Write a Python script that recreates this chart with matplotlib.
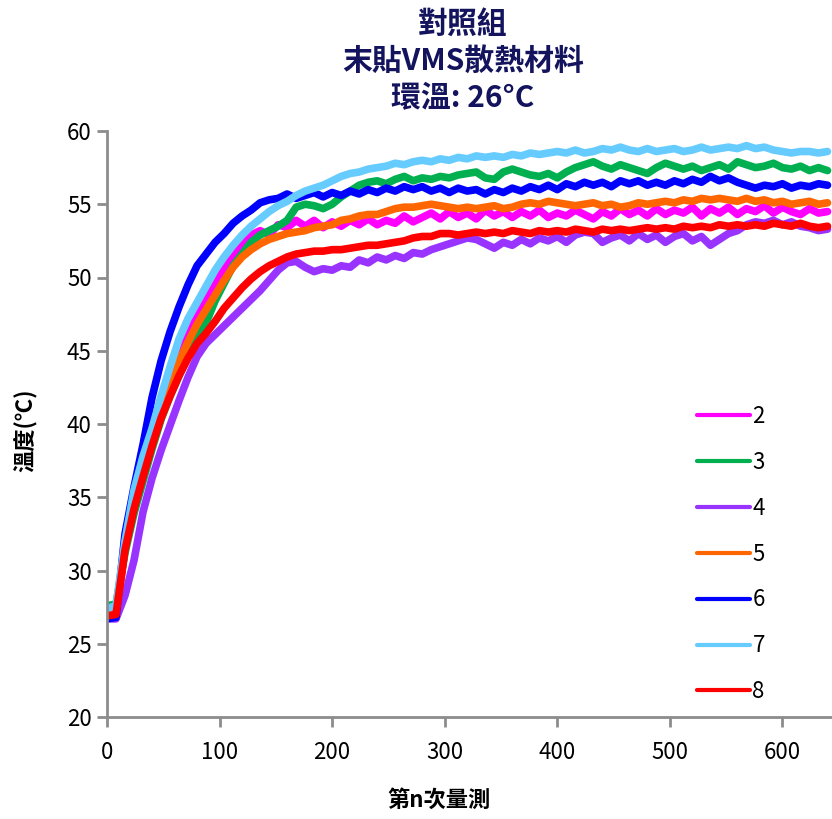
import matplotlib.pyplot as plt
import numpy as np

plt.rcParams['font.family'] = ['Noto Sans CJK TC', 'DejaVu Sans']

TITLE = '對照組\n末貼VMS散熱材料\n環溫: 26°C'
X_LABEL = '第n次量測'
Y_LABEL = '溫度(℃)'

# measurement index (read every 8th reading off the chart)
n = np.arange(0, 641, 8)

labels = ['2', '3', '4', '5', '6', '7', '8']
colors = ['#FF00FF', '#00B050', '#9933FF', '#FF6600', '#0000FF', '#66CCFF', '#FF0000']

t2 = [26.9, 27.0, 31.5, 34.4, 37.0, 39.2, 41.2, 43.0, 44.8, 46.4,
      47.6, 48.5, 49.5, 50.6, 51.6, 52.2, 52.9, 53.2, 52.9, 53.6,
      53.4, 53.9, 53.5, 53.9, 53.4, 53.8, 53.5, 53.9, 53.6, 54.0,
      53.6, 53.9, 53.7, 54.2, 53.8, 54.1, 54.4, 54.0, 54.5, 54.1,
      54.4, 54.0, 54.6, 54.2, 54.5, 54.1, 54.5, 54.2, 54.6, 54.1,
      54.4, 54.2, 54.6, 54.3, 54.0, 54.5, 54.2, 54.7, 54.3, 54.6,
      54.2, 54.7, 54.3, 54.6, 54.4, 54.8, 54.2, 54.7, 54.4, 54.8,
      54.3, 54.7, 54.5, 54.9, 54.4, 54.8, 54.5, 54.3, 54.7, 54.4,
      54.5]
t3 = [27.6, 27.7, 31.2, 33.9, 36.1, 38.3, 40.3, 41.9, 43.3, 44.6,
      45.8, 46.9, 48.4, 49.6, 50.8, 51.6, 52.4, 52.9, 53.2, 53.5,
      53.9, 54.8, 55.0, 54.9, 54.7, 55.0, 55.5, 55.9, 56.3, 56.5,
      56.6, 56.4, 56.7, 56.9, 56.6, 56.8, 56.7, 56.9, 56.8, 57.0,
      57.1, 57.2, 56.8, 56.7, 57.2, 57.4, 57.2, 57.0, 56.9, 57.1,
      56.8, 57.2, 57.5, 57.7, 57.9, 57.6, 57.4, 57.7, 57.5, 57.3,
      57.1, 57.5, 57.8, 57.6, 57.4, 57.6, 57.3, 57.5, 57.7, 57.4,
      57.9, 57.7, 57.5, 57.6, 57.8, 57.5, 57.4, 57.6, 57.3, 57.5,
      57.3]
t4 = [26.7, 26.7, 28.3, 30.7, 34.0, 36.3, 38.2, 39.9, 41.6, 43.2,
      44.6, 45.5, 46.1, 46.7, 47.3, 47.9, 48.5, 49.1, 49.8, 50.5,
      51.0, 51.1, 50.7, 50.4, 50.6, 50.5, 50.8, 50.7, 51.2, 51.0,
      51.4, 51.2, 51.5, 51.3, 51.7, 51.6, 51.9, 52.1, 52.3, 52.5,
      52.7, 52.6, 52.3, 52.0, 52.4, 52.2, 52.6, 52.3, 52.7, 52.5,
      52.8, 52.4, 52.9, 53.1, 53.0, 52.4, 52.7, 52.9, 52.5, 53.0,
      52.6, 52.9, 52.4, 52.8, 53.0, 52.5, 52.8, 52.2, 52.6, 53.0,
      53.2, 53.6, 53.8, 53.7, 53.9, 53.6, 53.8, 53.5, 53.4, 53.2,
      53.3]
t5 = [27.0, 27.1, 31.6, 34.4, 36.9, 39.3, 41.3, 42.9, 44.3, 45.6,
      46.8, 47.8, 48.8, 49.8, 50.7, 51.4, 51.9, 52.3, 52.6, 52.8,
      53.0, 53.1, 53.2, 53.4, 53.5, 53.6, 53.9, 54.0, 54.2, 54.3,
      54.3, 54.5, 54.7, 54.8, 54.8, 54.9, 55.0, 54.9, 54.8, 54.7,
      54.8, 54.7, 54.8, 54.9, 54.7, 54.8, 55.0, 55.1, 55.0, 55.2,
      55.1, 55.0, 54.9, 55.0, 55.1, 54.9, 55.0, 54.8, 54.9, 55.1,
      55.0, 55.1, 55.2, 55.1, 55.3, 55.2, 55.4, 55.3, 55.4, 55.3,
      55.2, 55.4, 55.2, 55.3, 55.1, 55.2, 55.0, 55.1, 55.2, 55.0,
      55.1]
t6 = [26.7, 26.8, 32.5, 35.7, 38.6, 41.8, 44.3, 46.3, 48.0, 49.5,
      50.8, 51.6, 52.4, 53.0, 53.7, 54.2, 54.6, 55.1, 55.3, 55.4,
      55.7, 55.4, 55.6, 55.8, 55.5, 55.8, 55.6, 55.9, 55.7, 56.0,
      55.8, 56.1, 55.9, 56.2, 56.0, 56.2, 55.9, 56.1, 55.8, 56.1,
      55.9, 56.0, 55.7, 56.0, 55.8, 56.1, 55.9, 56.2, 56.0, 56.3,
      56.0, 56.4, 56.2, 56.5, 56.3, 56.5, 56.2, 56.6, 56.4, 56.6,
      56.3, 56.5, 56.3, 56.6, 56.4, 56.7, 56.5, 56.9, 56.6, 56.8,
      56.5, 56.3, 56.1, 56.3, 56.2, 56.4, 56.1, 56.3, 56.2, 56.4,
      56.3]
t7 = [27.4, 27.6, 32.0, 35.5, 37.8, 39.7, 41.9, 43.9, 45.8, 47.2,
      48.3, 49.4, 50.5, 51.4, 52.2, 52.9, 53.5, 54.0, 54.5, 54.9,
      55.2, 55.6, 55.9, 56.1, 56.3, 56.6, 56.9, 57.1, 57.2, 57.4,
      57.5, 57.6, 57.8, 57.7, 57.9, 58.0, 57.9, 58.1, 58.0, 58.2,
      58.1, 58.3, 58.2, 58.3, 58.2, 58.4, 58.3, 58.5, 58.4, 58.5,
      58.6, 58.5, 58.7, 58.5, 58.6, 58.8, 58.7, 58.9, 58.7, 58.6,
      58.8, 58.6, 58.7, 58.8, 58.6, 58.7, 58.9, 58.7, 58.8, 58.9,
      58.8, 59.0, 58.8, 58.9, 58.7, 58.6, 58.5, 58.6, 58.6, 58.5,
      58.6]
t8 = [26.9, 27.0, 31.4, 34.2, 36.4, 38.5, 40.4, 41.9, 43.3, 44.5,
      45.5, 46.2, 47.0, 47.9, 48.6, 49.3, 49.9, 50.4, 50.8, 51.1,
      51.4, 51.6, 51.7, 51.8, 51.8, 51.9, 51.9, 52.0, 52.1, 52.2,
      52.2, 52.3, 52.4, 52.5, 52.7, 52.8, 52.8, 53.0, 53.0, 52.9,
      53.0, 53.1, 53.0, 53.1, 53.0, 53.2, 53.1, 53.0, 53.2, 53.1,
      53.2, 53.1, 53.3, 53.2, 53.1, 53.3, 53.2, 53.3, 53.2, 53.3,
      53.4, 53.3, 53.4, 53.3, 53.5, 53.4, 53.5, 53.4, 53.6, 53.5,
      53.6, 53.5, 53.6, 53.5, 53.7, 53.6, 53.5, 53.7, 53.5, 53.4,
      53.5]
series = [t2, t3, t4, t5, t6, t7, t8]

W, H = 832, 819
fig = plt.figure(figsize=(W / 100, H / 100), dpi=100)
ax = fig.add_axes([107 / W, (H - 717) / H, 1 - 107 / W, 586 / H])

for label, color, temps in zip(labels, colors, series):
    ax.plot(n, temps, color=color, lw=5.5, label=label,
            solid_capstyle='round', solid_joinstyle='round')

ax.set_xlim(0, 644)
ax.set_ylim(20, 60)
ax.set_xticks(range(0, 601, 100))
ax.set_yticks(range(20, 61, 5))

for side in ['top', 'right']:
    ax.spines[side].set_visible(False)
for side in ['left', 'bottom']:
    ax.spines[side].set_color('#8c8c8c')
    ax.spines[side].set_linewidth(2)
ax.tick_params(direction='out', length=7, width=2, color='#8c8c8c', labelsize=16)
ax.tick_params(axis='y', pad=4)
ax.tick_params(axis='x', pad=10)

leg = ax.legend(loc='upper left', bbox_to_anchor=(688 / W, 1 - 396 / H),
                bbox_transform=fig.transFigure, frameon=False, fontsize=16,
                handlelength=2.4, handletextpad=0.1, labelspacing=1.03,
                borderaxespad=0)
for line in leg.get_lines():
    line.set_linewidth(3)

fig.text(463 / W, 1 - 9 / H, TITLE, ha='center', va='top', fontsize=21.5,
         fontweight='bold', color='#14145e', linespacing=1.28)
fig.text(439 / W, 1 - 800 / H, X_LABEL, ha='center', va='center',
         fontsize=16, fontweight='bold')
fig.text(25 / W, 1 - 430 / H, Y_LABEL, ha='center', va='center',
         fontsize=16, fontweight='bold', rotation=90)

fig.savefig('out.png', dpi=100)
